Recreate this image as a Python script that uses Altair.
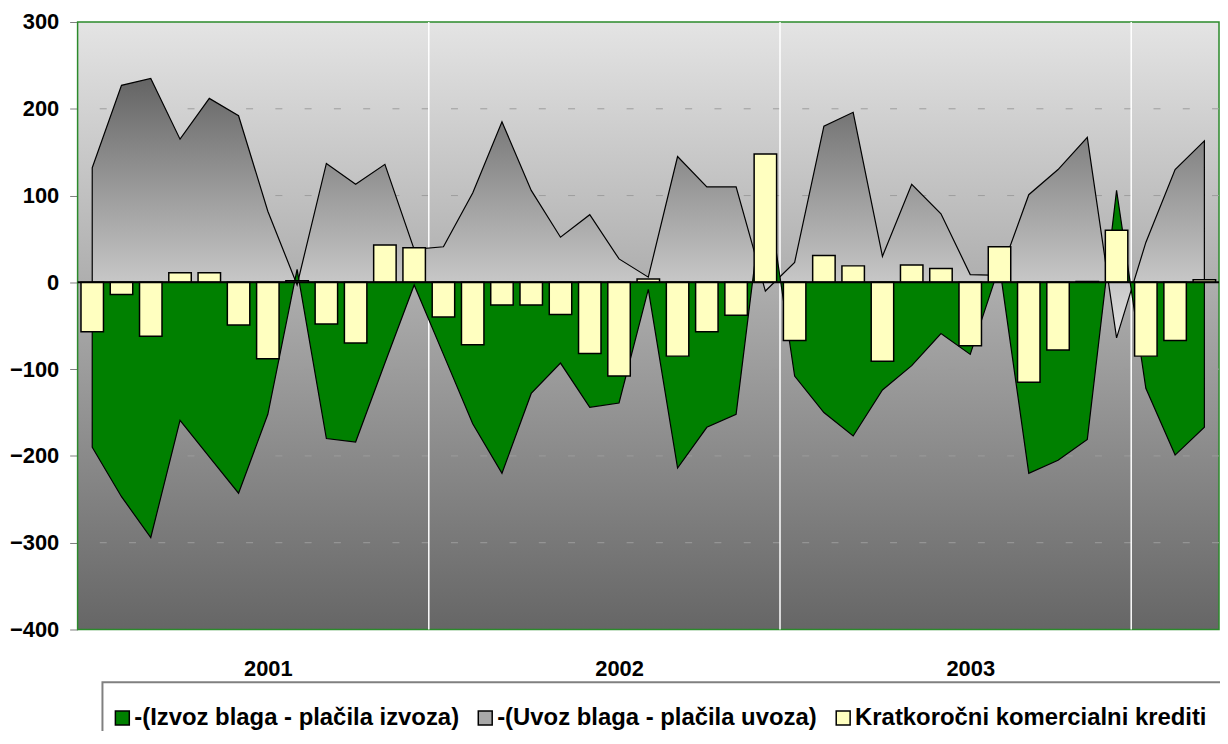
import altair as alt
import pandas as pd

FONT = "Liberation Sans"

# ---- data (monthly, Jan 2001 .. Mar 2004) ----
months = list(range(39))
izvoz = [-190, -247, -294, -159, -201, -243, -152, 15, -180, -184,
         -93, -3, -83, -163, -220, -128, -93, -144, -139, -8,
         -214, -167, -152, 120, -108, -150, -177, -124, -96, -59,
         -83, 19, -220, -205, -181, 106, -122, -199, -167]
uvoz = [132, 227, 235, 165, 212, 192, 82, -3, 137, 113,
        136, 38, 41, 103, 185, 106, 52, 78, 27, 6,
        145, 110, 110, -10, 23, 180, 196, 30, 113, 79,
        9, 8, 101, 130, 167, -64, 46, 130, 163]
krediti = [-57, -14, -62, 11, 11, -49, -88, 2, -48, -70,
           43, 40, -40, -72, -26, -26, -37, -82, -108, 4,
           -85, -57, -38, 148, -67, 31, 19, -91, 20, 16,
           -73, 41, -115, -78, 1, 60, -85, -67, 3]

years = ["2001", "2002", "2003"]
year_label_months = [6, 18, 30]
year_boundaries = [11.5, 23.5, 35.5]
y_ticks = [-400, -300, -200, -100, 0, 100, 200, 300]
grid_values = [-300, -200, -100, 100, 200]

names = ["-(Izvoz blaga - plačila izvoza)",
         "-(Uvoz blaga - plačila uvoza)",
         "Kratkoročni komercialni krediti"]
colors = ["#008000", "#a8a8a8", "#FFFFC0"]

W, H = 1148, 611

df = pd.DataFrame({"m": months, "izvoz": izvoz, "uvoz": uvoz, "krediti": krediti})
one = pd.DataFrame({"a": [0]})

xscale = alt.Scale(domain=[-0.5, 38.5], nice=False, zero=False, padding=0)
yscale = alt.Scale(domain=[-400, 300], nice=False, zero=False)

label_expr = " : ".join(f"datum.value == {m} ? '{y}'" for m, y in zip(year_label_months, years)) + " : ''"

xaxis = alt.Axis(values=year_label_months, labelExpr=label_expr, title=None,
                 domain=False, ticks=False, grid=False, labelFont=FONT,
                 labelFontSize=22, labelFontWeight="bold", labelColor="black",
                 labelPadding=39, labelBaseline="middle", labelOverlap=False,
                 labelFlush=False)
yaxis = alt.Axis(values=y_ticks, title=None, domain=False, grid=False,
                 tickSize=8, tickColor="#7f7f7f", tickWidth=1, labelFont=FONT,
                 labelFontSize=22, labelFontWeight="bold", labelColor="black",
                 labelPadding=11, labelOverlap=False, labelFlush=False)

bg_grad = alt.LinearGradient(gradient="linear",
                             stops=[alt.GradientStop(color="#e4e4e4", offset=0),
                                    alt.GradientStop(color="#666666", offset=1)],
                             x1=0, x2=0, y1=0, y2=1)
gray_grad = alt.LinearGradient(gradient="linear",
                               stops=[alt.GradientStop(color="#646464", offset=0),
                                      alt.GradientStop(color="#e2e2e2", offset=1)],
                               x1=0, x2=0, y1=0, y2=1)

bg = alt.Chart(one).mark_rect(fill=bg_grad, stroke="#2b8a2b", strokeWidth=1.5).encode(
    x=alt.value(0), x2=alt.value(W), y=alt.value(0), y2=alt.value(H))

grid = alt.Chart(pd.DataFrame({"g": grid_values})).mark_rule(
    color="#9c9c9c", strokeWidth=1, strokeDash=[7, 22.44]).encode(
    y=alt.Y("g:Q", scale=yscale, axis=yaxis))

ylines = alt.Chart(pd.DataFrame({"b": year_boundaries})).mark_rule(
    color="white", strokeWidth=1.5).encode(
    x=alt.X("b:Q", scale=xscale, axis=xaxis))

gray = alt.Chart(df).mark_area(fill=gray_grad, stroke="black", strokeWidth=1.2,
                               orient="vertical").encode(
    x=alt.X("m:Q", scale=xscale, axis=xaxis),
    y=alt.Y("uvoz:Q", scale=yscale, axis=yaxis))

green = alt.Chart(df).mark_area(fill="#008000", stroke="black", strokeWidth=1.2,
                                orient="vertical").encode(
    x=alt.X("m:Q", scale=xscale, axis=xaxis),
    y=alt.Y("izvoz:Q", scale=yscale, axis=yaxis))

bars = alt.Chart(df).mark_bar(fill="#FFFFC0", stroke="black", strokeWidth=1.5,
                              size=22.6, orient="vertical").encode(
    x=alt.X("m:Q", scale=xscale, axis=xaxis),
    y=alt.Y("krediti:Q", scale=yscale, axis=yaxis))

zero = alt.Chart(pd.DataFrame({"z": [0]})).mark_rule(color="black", strokeWidth=2).encode(
    y=alt.Y("z:Q", scale=yscale, axis=yaxis))

legend = alt.Legend(title=None, orient="none", legendX=33, legendY=688,
                    direction="horizontal", columns=3, columnPadding=14,
                    labelFont=FONT, labelFontSize=24, labelFontWeight="bold",
                    labelColor="black", labelOffset=0, labelLimit=800,
                    symbolType="square", symbolSize=196, symbolStrokeColor="black",
                    symbolStrokeWidth=1.5, symbolOpacity=1, padding=0)

leg = alt.Chart(pd.DataFrame({"name": names})).mark_square(size=0, opacity=1).encode(
    color=alt.Color("name:N", scale=alt.Scale(domain=names, range=colors), legend=legend))

frame = alt.Chart(one).mark_rect(fill="white", fillOpacity=0, stroke="#808080",
                                 strokeWidth=2).encode(
    x=alt.value(25), x2=alt.value(1200), y=alt.value(664), y2=alt.value(800))

chart = alt.layer(bg, grid, ylines, gray, green, bars, zero, leg, frame).properties(
    width=W, height=H,
    padding={"left": 70, "top": 12, "right": 1, "bottom": 100},
    autosize=alt.AutoSizeParams(type="none"),
).configure(font=FONT).configure_view(strokeOpacity=0)

chart.save("out.html", embed_options={"renderer": "svg", "actions": False})
